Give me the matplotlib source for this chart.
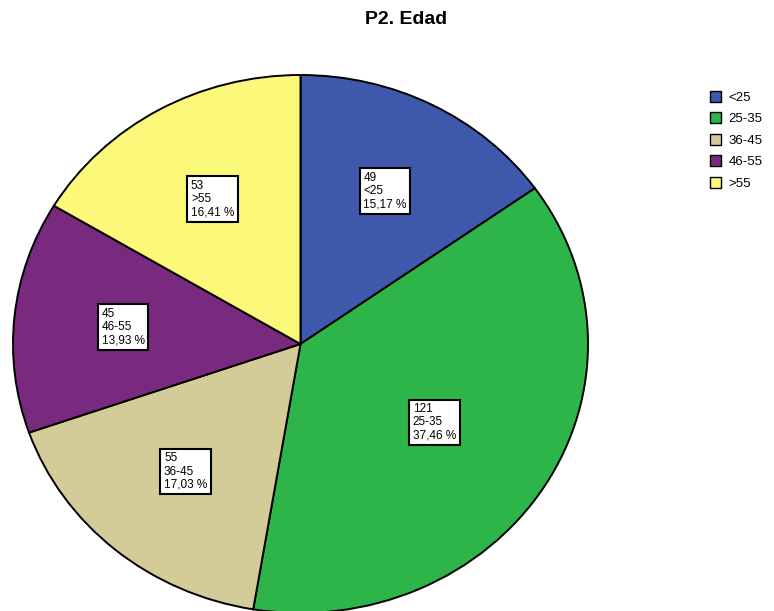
import matplotlib
matplotlib.use("Agg")
import matplotlib.pyplot as plt
import numpy as np

categories = ["<25", "25-35", "36-45", "46-55", ">55"]
counts = [49, 121, 55, 45, 53]
percents = ["15,17 %", "37,46 %", "17,03 %", "13,93 %", "16,41 %"]
colors = ["#3E58AC", "#2DB54A", "#D4CC98", "#7A2A7E", "#FBF87A"]
label_dist = [0.64, 0.55, 0.62, 0.62, 0.62]

plt.rcParams['font.family'] = ['Liberation Sans', 'DejaVu Sans']

W, H = 774, 611
fig = plt.figure(figsize=(W / 100, H / 100), dpi=100)
ax = fig.add_axes([0, 0, 1, 1])

cx, cy, rx, ry = 300.5, 344.0, 287.5, 269.0

wedges, _ = ax.pie(counts, colors=colors, startangle=90, counterclock=False,
                   radius=1.0, center=(0, 0),
                   wedgeprops=dict(edgecolor="black", linewidth=1.4))
ax.set_aspect('auto')
ax.set_xlim((0 - cx) / rx, (W - cx) / rx)
ax.set_ylim((cy - H) / ry, cy / ry)
ax.axis('off')

for w, n, c, p, d in zip(wedges, counts, categories, percents, label_dist):
    mid = np.deg2rad((w.theta1 + w.theta2) / 2)
    ax.text(d * np.cos(mid), d * np.sin(mid), f"{n}\n{c}\n{p}",
            ha="center", va="center", ma="left", fontsize=8.5,
            linespacing=1.15,
            bbox=dict(boxstyle="square,pad=0.3", facecolor="white",
                      edgecolor="black", linewidth=1.5))

fig.text(406 / W, 1 - 19 / H, "P2. Edad", ha="center", va="center",
         fontsize=14, fontweight="bold")

leg = fig.legend(wedges, categories, loc="upper left",
                 bbox_to_anchor=(703 / W, 1 - 84 / H), frameon=False,
                 fontsize=9.5, handlelength=0.9, handleheight=0.9,
                 handletextpad=0.55, labelspacing=0.65, borderpad=0)
for h in leg.legend_handles:
    h.set_linewidth(1.0)
    h.set_edgecolor("black")

fig.savefig("out.png", dpi=100)
